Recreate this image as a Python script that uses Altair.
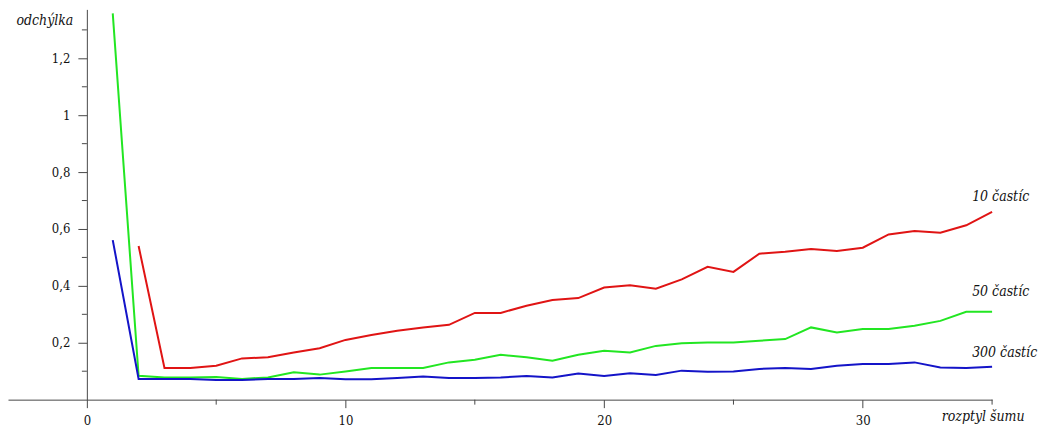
import altair as alt
import pandas as pd

# ---- data ----
x_all = list(range(1, 36))

# 10 častíc (starts at x = 2)
red_x = list(range(2, 36))
red_y = [0.54, 0.111, 0.111, 0.119, 0.145, 0.149, 0.166, 0.181, 0.21, 0.227,
         0.242, 0.254, 0.263, 0.305, 0.305, 0.33, 0.35, 0.357, 0.394, 0.402,
         0.39, 0.423, 0.467, 0.449, 0.513, 0.52, 0.53, 0.523, 0.534, 0.581,
         0.593, 0.587, 0.613, 0.66]

# 50 častíc
green_x = x_all
green_y = [1.358, 0.084, 0.078, 0.078, 0.080, 0.073, 0.078, 0.096, 0.088, 0.099,
           0.111, 0.111, 0.111, 0.131, 0.14, 0.158, 0.149, 0.137, 0.158, 0.172,
           0.166, 0.189, 0.198, 0.201, 0.201, 0.207, 0.213, 0.254, 0.236, 0.248,
           0.248, 0.26, 0.277, 0.309, 0.309]

# 300 častíc
blue_x = x_all
blue_y = [0.561, 0.073, 0.073, 0.073, 0.069, 0.069, 0.073, 0.073, 0.076, 0.072,
          0.072, 0.076, 0.081, 0.076, 0.076, 0.078, 0.083, 0.078, 0.092, 0.083,
          0.093, 0.087, 0.102, 0.098, 0.099, 0.108, 0.111, 0.108, 0.119, 0.125,
          0.125, 0.131, 0.113, 0.111, 0.116]

series_names = ["10 častíc", "50 častíc", "300 častíc"]
series_colors = ["#e01414", "#22e622", "#1414c8"]

x_major = [0, 10, 20, 30]
x_minor = [5, 15, 25, 35]
y_major = [0.2, 0.4, 0.6, 0.8, 1.0, 1.2]
y_minor = [0.1, 0.3, 0.5, 0.7, 0.9, 1.1, 1.3]

x_domain = [-3.05, 35]
y_domain = [0, 1.372]

# ---- tables ----
rows = []
for name, xs_, ys_ in zip(series_names, [red_x, green_x, blue_x], [red_y, green_y, blue_y]):
    for i, (xv, yv) in enumerate(zip(xs_, ys_)):
        rows.append({"x": xv, "y": yv, "serie": name, "i": i})
df = pd.DataFrame(rows)

last = df.sort_values("x").groupby("serie", as_index=False).last()

AX = "#474747"
TXT = "#111111"
FONT = "DejaVu Serif Condensed, DejaVu Serif"

xs = alt.Scale(domain=x_domain, nice=False, zero=False)
ys = alt.Scale(domain=y_domain, nice=False, zero=False)

x_axis = alt.Axis(values=x_major, format="d", grid=False, tickSize=8, labelPadding=7,
                  domainColor=AX, tickColor=AX, labelColor=TXT,
                  labelFont=FONT, labelFontSize=13,
                  title="rozptyl šumu", titleFont=FONT, titleFontSize=14,
                  titleFontStyle="italic", titleFontWeight="normal", titleColor=TXT,
                  titleX=935, titleY=21, titleAlign="left", titleBaseline="alphabetic")

y_axis = alt.Axis(values=y_major, grid=False, tickSize=9, labelPadding=8, offset=-79,
                  labelExpr="replace(format(datum.value, '~g'), '.', ',')",
                  domainColor=AX, tickColor=AX, labelColor=TXT,
                  labelFont=FONT, labelFontSize=13,
                  title="odchýlka", titleFont=FONT, titleFontSize=14,
                  titleFontStyle="italic", titleFontWeight="normal", titleColor=TXT,
                  titleAngle=0, titleX=-14, titleY=15, titleAlign="right",
                  titleBaseline="alphabetic")

base = alt.Chart(df)

lines = base.mark_line(strokeWidth=2, interpolate="linear").encode(
    x=alt.X("x:Q", scale=xs, axis=x_axis),
    y=alt.Y("y:Q", scale=ys, axis=y_axis),
    color=alt.Color("serie:N", scale=alt.Scale(domain=series_names, range=series_colors), legend=None),
    detail="serie:N",
    order="i:Q",
)

xminor = alt.Chart(pd.DataFrame({"x": x_minor})).mark_rule(color=AX, strokeWidth=1, y2Offset=5).encode(
    x=alt.X("x:Q", scale=xs),
    y=alt.YDatum(0),
    y2=alt.Y2Datum(0),
)

yminor = alt.Chart(pd.DataFrame({"y": y_minor})).mark_rule(color=AX, strokeWidth=1, xOffset=-5).encode(
    y=alt.Y("y:Q", scale=ys),
    x=alt.XDatum(0),
    x2=alt.X2Datum(0),
)

label_offsets = {"10 častíc": -15, "50 častíc": -20, "300 častíc": -14}
labels = []
for name in series_names:
    sub = last[last["serie"] == name]
    labels.append(
        alt.Chart(sub).mark_text(font=FONT, fontSize=14, fontStyle="italic", color=TXT,
                                 align="left", baseline="middle", dx=-20, dy=label_offsets[name]).encode(
            x=alt.X("x:Q", scale=xs),
            y=alt.Y("y:Q", scale=ys),
            text="serie:N",
        )
    )

chart = alt.layer(lines, xminor, yminor, *labels).properties(
    width=986, height=391, padding=0, background="white"
).configure_view(strokeWidth=0)

chart.save("out.html", embed_options={"renderer": "svg", "actions": False})
